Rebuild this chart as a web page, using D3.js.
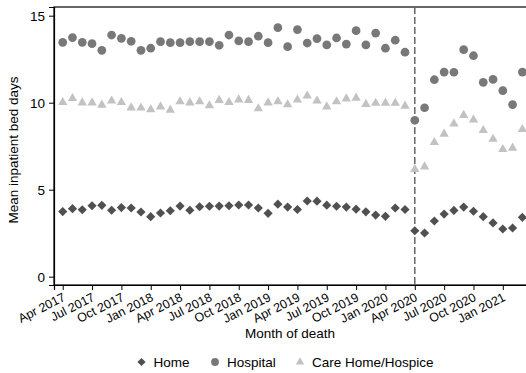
<!DOCTYPE html>
<html>
<head>
<meta charset="utf-8">
<script src="https://cdn.jsdelivr.net/npm/d3@7"></script>
<style>
  body { margin: 0; background: #fff; }
  svg { font-family: "Liberation Sans", Arial, sans-serif; }
</style>
</head>
<body>
<div id="chart"></div>
<script>
// months Apr 2017 .. Mar 2021 (index 0..47)
const monthLabels = ["Apr 2017","Jul 2017","Oct 2017","Jan 2018","Apr 2018","Jul 2018","Oct 2018","Jan 2019",
  "Apr 2019","Jul 2019","Oct 2019","Jan 2020","Apr 2020","Jul 2020","Oct 2020","Jan 2021"];
const tickMonths = monthLabels.map((d, i) => i * 3);
const yTicks = [0, 5, 10, 15];
const lockdownMonth = 36;

const home = [3.74,3.91,3.85,4.08,4.10,3.82,3.97,3.95,3.72,3.45,3.66,3.79,
  4.06,3.82,4.02,4.05,4.06,4.08,4.12,4.12,3.95,3.64,4.17,4.00,
  3.86,4.35,4.34,4.11,4.05,4.00,3.88,3.73,3.54,3.47,3.95,3.86,
  2.64,2.51,3.20,3.60,3.81,4.00,3.76,3.45,3.09,2.74,2.80,3.41];
const hospital = [13.47,13.74,13.47,13.39,13.01,13.89,13.70,13.53,13.01,13.13,13.51,13.45,
  13.45,13.51,13.51,13.51,13.30,13.89,13.55,13.51,13.82,13.45,14.31,13.22,
  14.20,13.43,13.68,13.32,13.72,13.37,14.14,13.32,14.00,13.13,13.59,12.90,
  8.99,9.71,11.32,11.76,11.75,13.05,12.70,11.17,11.34,10.69,9.89,11.76];
const careHome = [10.02,10.25,10.00,10.00,9.87,10.11,10.02,9.71,9.70,9.60,9.77,9.58,
  10.06,10.00,10.06,9.83,10.14,10.02,10.17,10.14,9.66,10.00,10.06,9.89,
  10.16,10.39,10.11,9.77,10.06,10.23,10.27,9.91,9.98,9.98,9.98,9.81,
  6.17,6.32,7.72,8.20,8.79,9.28,9.02,8.41,7.91,7.32,7.40,8.47];

const seriesList = [
  {name: "Home", values: home, shape: d3.symbolSquare, rot: 45, color: "#505050", size: 42},
  {name: "Hospital", values: hospital, shape: d3.symbolCircle, rot: 0, color: "#787878", size: 60},
  {name: "Care Home/Hospice", values: careHome, shape: d3.symbolTriangle, rot: 0, color: "#c2c2c2", size: 38}
];

const width = 526, height = 373;
const plot = {left: 54, top: 7, right: 530, bottom: 285};

const svg = d3.select("#chart").append("svg")
  .attr("width", width).attr("height", height);

let x = d3.scaleLinear().domain([-0.89, 47.78]).range([plot.left, plot.right]);
let y = d3.scaleLinear().domain([-0.477, 15.5]).range([plot.bottom, plot.top]);

// frame
svg.append("rect")
  .attr("x", plot.left).attr("y", plot.top)
  .attr("width", plot.right - plot.left).attr("height", plot.bottom - plot.top)
  .attr("fill", "none").attr("stroke", "#000").attr("stroke-width", 1.2);

// y axis
let yAxis = svg.append("g")
  .attr("transform", "translate(" + plot.left + ",0)")
  .call(d3.axisLeft(y).tickValues(yTicks).tickSize(5).tickPadding(4));
yAxis.select(".domain").attr("stroke-width", 1.2);
yAxis.selectAll("text").attr("fill", "#000")
  .style("font-size", "13.5px")
  .style("font-family", "'Liberation Sans', Arial, sans-serif");

// x axis
let xAxis = svg.append("g")
  .attr("transform", "translate(0," + plot.bottom + ")")
  .call(d3.axisBottom(x).tickValues(tickMonths).tickSize(5)
    .tickFormat((d, i) => monthLabels[i]));
xAxis.select(".domain").attr("stroke-width", 1.2);
xAxis.selectAll("text")
  .attr("fill", "#000")
  .style("font-size", "12.5px")
  .style("font-family", "'Liberation Sans', Arial, sans-serif")
  .attr("text-anchor", "end")
  .attr("dy", null).attr("y", null)
  .attr("transform", "translate(3,15) rotate(-27)");

// lockdown line
svg.append("line")
  .attr("x1", x(lockdownMonth)).attr("x2", x(lockdownMonth))
  .attr("y1", plot.top).attr("y2", plot.bottom)
  .attr("stroke", "#666").attr("stroke-width", 1.5)
  .attr("stroke-dasharray", "7,3");

// markers
seriesList.forEach(s => {
  svg.append("g").selectAll("path")
    .data(s.values)
    .join("path")
    .attr("transform", (d, i) => "translate(" + x(i) + "," + y(d) + ") rotate(" + s.rot + ")")
    .attr("d", d3.symbol().type(s.shape).size(s.size))
    .attr("fill", s.color);
});

// axis titles
svg.append("text")
  .attr("x", (plot.left + 526) / 2).attr("y", 338)
  .attr("text-anchor", "middle").style("font-size", "13.5px")
  .text("Month of death");

svg.append("text")
  .attr("transform", "translate(18,150) rotate(-90)")
  .attr("text-anchor", "middle").style("font-size", "13.5px")
  .text("Mean inpatient bed days");

// legend
const legendX = [141.5, 215, 300];
let legend = svg.append("g");
seriesList.forEach((s, i) => {
  legend.append("path")
    .attr("transform", "translate(" + legendX[i] + ",362) rotate(" + s.rot + ")")
    .attr("d", d3.symbol().type(s.shape).size(s.size * 0.8))
    .attr("fill", s.color);
  legend.append("text")
    .attr("x", legendX[i] + 12).attr("y", 367)
    .style("font-size", "13.5px")
    .text(s.name);
});
</script>
</body>
</html>
